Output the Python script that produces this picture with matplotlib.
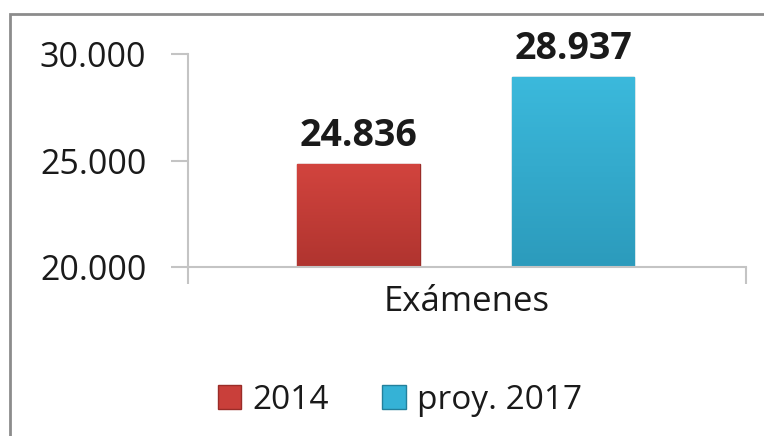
import matplotlib.pyplot as plt
import numpy as np
from matplotlib.colors import LinearSegmentedColormap
from matplotlib.patches import Rectangle

categories = ["Exámenes"]
series_names = ["2014", "proy. 2017"]
values = [24836, 28937]
value_labels = ["24.836", "28.937"]
y_ticks = [20000, 25000, 30000]
y_ticklabels = ["20.000", "25.000", "30.000"]

colors = ["#C93F3A", "#35B2D6"]
light = ["#D2443E", "#3BB9DC"]
dark = ["#B0342F", "#2C9BBC"]
edge = ["#9A2C28", "#23809C"]

plt.rcParams["font.family"] = ["Open Sans", "DejaVu Sans"]

W, H = 764, 436
fig = plt.figure(figsize=(W / 100, H / 100), dpi=100)

# outer frame (cut by the right and bottom image edges)
fig.add_artist(Rectangle((10 / W, -0.05), 1.1, 1 - 14 / H + 0.05,
                         transform=fig.transFigure, fill=False,
                         edgecolor="#8c8c8c", linewidth=2))

ax = fig.add_axes([188 / W, 1 - 267 / H, (746 - 188) / W, (267 - 54) / H])
ax.set_xlim(-0.5, 0.5)
ax.set_ylim(y_ticks[0], y_ticks[-1])

offsets = [-0.195, 0.19]
width = 0.22
for i, (name, v) in enumerate(zip(series_names, values)):
    bar = ax.bar(offsets[i], v - y_ticks[0], bottom=y_ticks[0], width=width,
                 color=colors[i], edgecolor=edge[i], linewidth=1.0,
                 label=name, zorder=2)[0]
    # soft vertical shading like the original bevel
    cmap = LinearSegmentedColormap.from_list("g", [dark[i], light[i]])
    x0, y0 = bar.get_x(), bar.get_y()
    im = ax.imshow(np.linspace(0, 1, 64).reshape(-1, 1), cmap=cmap,
                   origin="lower", aspect="auto", zorder=2.5,
                   extent=(x0, x0 + bar.get_width(), y0, y0 + bar.get_height()))
    im.set_clip_path(bar)
    ax.text(offsets[i], v + 400, value_labels[i], ha="center", va="bottom",
            fontsize=27, fontweight="bold", color="#1a1a1a")

ax.set_xlim(-0.5, 0.5)
ax.set_ylim(y_ticks[0], y_ticks[-1])
ax.set_yticks(y_ticks)
ax.set_yticklabels(y_ticklabels, fontsize=24.5, color="#1a1a1a")
ax.set_xticks([0])
ax.set_xticklabels(categories, fontsize=25, color="#1a1a1a")
ax.set_xticks([-0.5, 0.5], minor=True)
ax.tick_params(axis="y", length=12, width=1.5, color="#c4c4c4", pad=18)
ax.tick_params(axis="x", which="major", length=0, pad=13)
ax.tick_params(axis="x", which="minor", length=12, width=1.5, color="#c4c4c4")
for s in ["top", "right"]:
    ax.spines[s].set_visible(False)
for s in ["left", "bottom"]:
    ax.spines[s].set_color("#c4c4c4")
    ax.spines[s].set_linewidth(1.5)

leg = fig.legend(loc="center", bbox_to_anchor=(400 / W, 1 - 400 / H), ncol=2,
                 frameon=False, fontsize=24, handlelength=0.7, handleheight=0.7,
                 handletextpad=0.35, columnspacing=1.6)
for t in leg.get_texts():
    t.set_color("#1a1a1a")
for h, c in zip(leg.legend_handles, colors):
    h.set_facecolor(c)

fig.savefig("out.png", dpi=100)
